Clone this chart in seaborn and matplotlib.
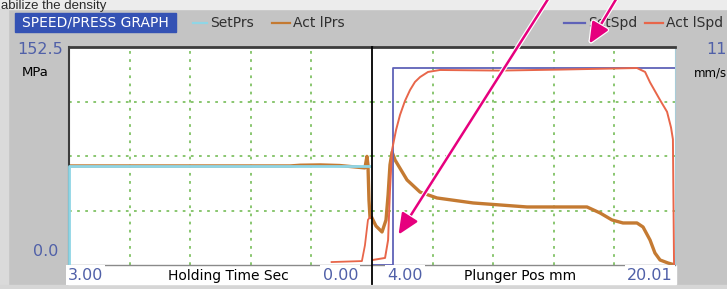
import seaborn as sns
import matplotlib.pyplot as plt
import matplotlib.patheffects as pe
from matplotlib.lines import Line2D
from matplotlib.patches import Rectangle, FancyArrowPatch

# full scale of the two y axes
PRS_MAX = 152.5   # MPa
SPD_MAX = 111     # mm/s (label cut off at image edge)

# holding time section (sec, counts down 3.00 -> 0.00)
hold_t = [3.00, 2.20, 1.21, 0.81, 0.71, 0.51, 0.32, 0.17, 0.07, 0.05, 0.04, 0.03, 0.02, 0.00]
hold_act_prs = [69.3, 69.3, 69.3, 69.3, 69.8, 70.0, 69.6, 68.6, 67.9, 76.0, 70.0, 45.5, 33.6, 32.9]
hold_set_t = [3.00, 3.00, 0.00]
hold_set_prs = [0.0, 69.3, 69.3]
hold_spd_t = [0.40, 0.10, 0.07, 0.04, 0.02]
hold_act_spd = [1.5, 2.0, 10.0, 23.0, 24.4]

# plunger position section (mm)
pos_prs = [4.00, 4.21, 4.53, 4.74, 4.85, 4.95, 5.06, 5.22, 5.85, 6.54, 7.43, 9.34, 12.19,
           15.36, 16.05, 16.68, 17.26, 18.00, 18.32, 18.69, 18.95, 19.22, 19.64, 20.01]
act_prs = [32.9, 27.3, 23.1, 31.5, 49.0, 70.0, 79.0, 73.4, 59.5, 51.0, 46.9, 43.4, 40.6,
           40.6, 36.4, 31.5, 29.4, 29.4, 26.6, 17.5, 8.4, 3.5, 1.4, 0.0]
pos_spd = [4.00, 4.69, 4.85, 4.95, 5.06, 5.27, 5.48, 5.74, 6.01, 6.27, 6.54, 6.96, 7.59,
           10.76, 13.93, 18.00, 18.43, 18.69, 19.22, 19.59, 19.80, 19.90, 19.96]
act_spd = [2.5, 3.6, 12.7, 38.0, 58.6, 68.7, 76.4, 83.5, 89.1, 93.2, 95.7, 98.3, 99.3,
           99.0, 99.5, 100.3, 98.3, 93.0, 84.0, 78.0, 70.0, 64.0, 0.0]
set_spd_pos = [4.00, 5.11, 5.11, 20.01]
set_spd = [0.0, 0.0, 100.3, 100.3]

C_SETPRS = '#8fd6e6'
C_ACTPRS = '#c47a32'
C_SETSPD = '#5f62b8'
C_ACTSPD = '#e8664a'
C_GRID = '#80c264'
C_NUM = '#5060a8'

W, H = 727, 289
fig = plt.figure(figsize=(W / 100, H / 100), dpi=100, facecolor='#c4c4c4')


def fx(x):
    return x / W


def fy(y):
    return 1 - y / H


# background bands
fig.add_artist(Rectangle((0, fy(9)), 1, 9 / H, transform=fig.transFigure, color='#ececec', zorder=0))
fig.add_artist(Rectangle((0, 0), fx(8), fy(9), transform=fig.transFigure, color='#dadada', zorder=0))
fig.add_artist(Rectangle((0, 0), 1, 4 / H, transform=fig.transFigure, color='#d6d6d6', zorder=0))
fig.add_artist(Rectangle((fx(68), fy(284)), fx(608), 19 / H, transform=fig.transFigure,
                         color='white', zorder=0))

top, bot = 47, 265
ax_l = fig.add_axes([fx(69), fy(bot), fx(372 - 69), (bot - top) / H])
ax_r = fig.add_axes([fx(372), fy(bot), fx(675 - 372), (bot - top) / H])

for ax in (ax_l, ax_r):
    ax.set_facecolor('white')
    ax.set_ylim(0, PRS_MAX)
    ax.set_yticks([PRS_MAX * k / 4 for k in (1, 2, 3)])
    ax.grid(True, color=C_GRID, ls=(0, (1.5, 3)), lw=1.3)
    ax.tick_params(length=0, labelbottom=False, labelleft=False)
    ax.spines['top'].set_color('#3c3c3c')
    ax.spines['top'].set_linewidth(2)
    ax.spines['bottom'].set_color('#8a8a8a')
    ax.spines['bottom'].set_linewidth(1)

ax_l.set_xlim(3.00, 0.00)
ax_l.set_xticks([2.4, 1.8, 1.2, 0.6])
ax_l.spines['left'].set_color('#3c3c3c')
ax_l.spines['left'].set_linewidth(1.5)
ax_l.spines['right'].set_visible(False)

ax_r.set_xlim(4.00, 20.01)
ax_r.set_xticks([4.00 + 16.01 * k / 5 for k in (1, 2, 3, 4)])
ax_r.spines['left'].set_visible(False)
ax_r.spines['right'].set_color('#a8ccd8')

# pressure traces
sns.lineplot(x=hold_set_t, y=hold_set_prs, ax=ax_l, color=C_SETPRS, lw=2, sort=False,
             estimator=None, clip_on=False, zorder=3)
sns.lineplot(x=hold_t, y=hold_act_prs, ax=ax_l, color=C_ACTPRS, lw=2.4, sort=False, estimator=None)
sns.lineplot(x=pos_prs, y=act_prs, ax=ax_r, color=C_ACTPRS, lw=2.4, sort=False, estimator=None)

# speed traces on twin axes
ax_l2 = ax_l.twinx()
ax_r2 = ax_r.twinx()
for ax in (ax_l2, ax_r2):
    ax.set_ylim(0, SPD_MAX)
    ax.axis('off')
sns.lineplot(x=hold_spd_t, y=hold_act_spd, ax=ax_l2, color=C_ACTSPD, lw=1.3, sort=False, estimator=None)
sns.lineplot(x=set_spd_pos, y=set_spd, ax=ax_r2, color=C_SETSPD, lw=1.3, sort=False, estimator=None)
sns.lineplot(x=pos_spd, y=act_spd, ax=ax_r2, color=C_ACTSPD, lw=1.4, sort=False, estimator=None)
for ax in (ax_l, ax_r, ax_l2, ax_r2):
    ax.set_xlabel('')
    ax.set_ylabel('')

# divider between the two sections
fig.add_artist(Line2D([fx(372)] * 2, [fy(47), fy(284)], color='black', lw=1.3, zorder=5))

# header
fig.add_artist(Rectangle((fx(15), fy(32)), fx(161), 19 / H, transform=fig.transFigure,
                         color='#3452b4', zorder=1))
fig.text(fx(95), fy(22), 'SPEED/PRESS GRAPH', color='white', fontsize=10, ha='center', va='center')
legend_items = [(193, 207, C_SETPRS, 'SetPrs'), (272, 290, C_ACTPRS, 'Act lPrs'),
                (564, 585, C_SETSPD, 'SetSpd'), (645, 663, C_ACTSPD, 'Act lSpd')]
for x0, x1, c, lab in legend_items:
    fig.add_artist(Line2D([fx(x0), fx(x1)], [fy(23)] * 2, color=c, lw=1.6))
    fig.text(fx(x1 + 3), fy(23), lab, color='#303030', fontsize=10, ha='left', va='center')

# axis labels around the plot
fig.text(fx(17), fy(50), '152.5', color=C_NUM, fontsize=11.5, ha='left', va='center')
fig.text(fx(22), fy(73), 'MPa', color='black', fontsize=9.5, ha='left', va='center')
fig.text(fx(33), fy(251), '0.0', color=C_NUM, fontsize=11.5, ha='left', va='center')
fig.text(fx(706), fy(50), '11', color=C_NUM, fontsize=11.5, ha='left', va='center')
fig.text(fx(694), fy(73), 'mm/s', color='black', fontsize=8.5, ha='left', va='center')

box = dict(facecolor='white', edgecolor='none', pad=1.5)
fig.text(fx(68), fy(275), '3.00', color=C_NUM, fontsize=11.5, ha='left', va='center', bbox=box)
fig.text(fx(228), fy(276), 'Holding Time Sec', color='black', fontsize=10, ha='center', va='center', bbox=box)
fig.text(fx(358), fy(275), '0.00', color=C_NUM, fontsize=11.5, ha='right', va='center', bbox=box)
fig.text(fx(387), fy(275), '4.00', color=C_NUM, fontsize=11.5, ha='left', va='center', bbox=box)
fig.text(fx(520), fy(276), 'Plunger Pos mm', color='black', fontsize=10, ha='center', va='center', bbox=box)
fig.text(fx(673), fy(275), '20.01', color=C_NUM, fontsize=11.5, ha='right', va='center', bbox=box)

# document text cut off at the top of the source crop
fig.text(fx(1), fy(9), 'abilize the density', color='#2a2a2a', fontsize=9.5,
         ha='left', va='baseline', family='Liberation Sans')

# annotation arrows from the source page
for (xa, ya), (xb, yb) in [((550, -4), (397, 237)), ((618, -4), (588, 46))]:
    arr = FancyArrowPatch((xa / 100, (H - ya) / 100), (xb / 100, (H - yb) / 100),
                          transform=fig.dpi_scale_trans, arrowstyle='-|>,head_length=0.9,head_width=0.4',
                          mutation_scale=14, color='#e6007e', lw=1.8, zorder=10,
                          path_effects=[pe.Stroke(linewidth=3.5, foreground='white'), pe.Normal()])
    fig.add_artist(arr)

fig.savefig('out.png', dpi=100, facecolor=fig.get_facecolor())
